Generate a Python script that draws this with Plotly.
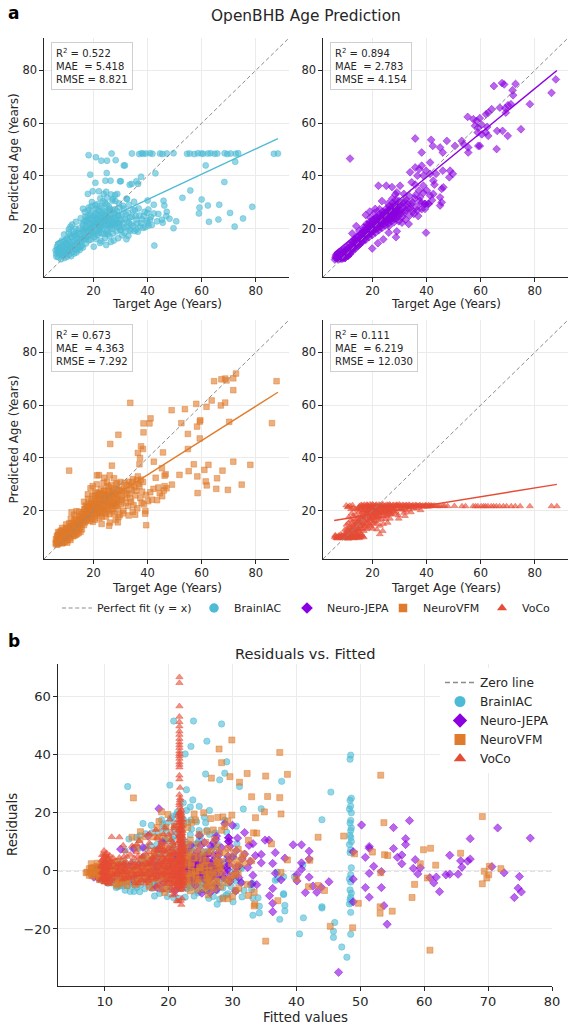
import plotly.graph_objects as go

FONT = "DejaVu Sans"
INK = "#262626"
GRID = "#ebebeb"

# ── Data ──────────────────────────────────────────────────────────────────────
models = ["BrainIAC", "Neuro-JEPA", "NeuroVFM", "VoCo"]
colors = ["#4DBBD5", "#8B00E0", "#E07B2C", "#E64B35"]
symbols = ["circle", "diamond", "square", "triangle-up"]
r2_vals = ["0.522", "0.894", "0.673", "0.111"]
mae_vals = ["5.418", "2.783", "4.363", "6.219"]
rmse_vals = ["8.821", "4.154", "7.292", "12.030"]

# (target age, predicted age)
brainiac_pairs = [
    (6.2, 10.5), (6.5, 13.2), (6.8, 11.0), (7.0, 9.2), (7.2, 12.4), (7.5, 14.6), (7.8, 10.3), (8.0, 8.4),
    (8.1, 12.0), (8.3, 15.5), (8.6, 9.8), (8.8, 13.1), (9.0, 11.2), (9.1, 17.8), (9.3, 8.9), (9.5, 14.2),
    (9.7, 10.6), (9.9, 12.7), (10.1, 16.3), (10.2, 9.4), (10.4, 13.8), (10.6, 11.5), (10.8, 18.6), (11.0, 10.2),
    (11.1, 15.1), (11.3, 12.9), (11.5, 20.8), (11.7, 9.6), (11.8, 14.0), (12.0, 16.9), (12.2, 11.3), (12.4, 13.4),
    (12.6, 19.0), (12.8, 10.6), (13.0, 15.6), (13.1, 12.2), (13.3, 17.5), (13.5, 22.6), (13.7, 11.0), (13.9, 14.5),
    (14.1, 18.4), (14.3, 13.0), (14.5, 16.2), (14.7, 20.1), (14.9, 11.9), (15.1, 15.0), (15.3, 24.0), (15.5, 17.3),
    (15.7, 13.6), (15.9, 19.6), (16.2, 21.5), (16.4, 15.8), (16.6, 18.2), (16.8, 26.3), (17.0, 20.0), (17.2, 14.4),
    (17.4, 22.8), (17.6, 17.0), (17.8, 24.5), (18.0, 19.2), (18.2, 28.0), (18.3, 15.6), (18.5, 21.4), (18.7, 23.6),
    (18.9, 17.8), (19.1, 26.0), (19.2, 20.3), (19.4, 30.1), (19.6, 18.5), (19.8, 22.4), (20.0, 24.8), (20.1, 13.2),
    (20.3, 16.9), (20.5, 20.9), (20.7, 27.5), (20.9, 22.0), (21.0, 19.0), (21.2, 25.1), (21.4, 29.3), (21.6, 17.6),
    (21.8, 23.2), (22.0, 21.0), (22.1, 26.8), (22.3, 19.8), (22.5, 31.5), (22.7, 24.0), (22.9, 15.3), (23.1, 22.5),
    (23.3, 27.9), (23.5, 20.2), (23.7, 25.4), (23.9, 18.0), (24.1, 23.6), (24.3, 29.8), (24.5, 21.5), (24.7, 13.8),
    (24.9, 26.2), (25.1, 19.4), (25.3, 24.3), (25.5, 22.0), (25.7, 28.4), (25.9, 17.2), (26.1, 25.0), (26.3, 21.1),
    (26.5, 33.0), (26.7, 23.4), (26.9, 19.9), (27.1, 27.0), (27.3, 22.6), (27.5, 15.5), (27.7, 25.8), (27.9, 21.3),
    (28.1, 30.5), (28.3, 24.1), (28.5, 19.0), (28.7, 26.6), (28.9, 22.3), (29.1, 16.4), (29.3, 24.9), (29.5, 20.7),
    (29.7, 28.0), (29.9, 23.0), (19.5, 21.0), (20.4, 23.3), (21.3, 21.8), (22.2, 23.0), (22.8, 20.6), (23.6, 22.8),
    (24.4, 24.9), (25.2, 21.2), (26.0, 23.8), (26.8, 21.7), (27.6, 23.9), (28.4, 22.0), (21.7, 19.7), (23.0, 25.9),
    (24.8, 18.6), (25.8, 26.9), (20.8, 25.7), (18.6, 19.9), (17.5, 18.8), (16.5, 16.7),
    (6.0, 11.8), (6.3, 9.4), (6.6, 12.1), (6.9, 14.0), (7.3, 10.9), (7.7, 12.9), (8.2, 11.0), (8.5, 13.6),
    (8.9, 10.0), (9.2, 15.0), (9.6, 11.9), (9.9, 14.6), (10.3, 12.6), (10.7, 15.6), (11.0, 11.6), (11.4, 17.4),
    (11.9, 12.6), (12.3, 15.0), (12.7, 17.9), (13.2, 13.7), (13.6, 16.3), (14.0, 12.0), (14.4, 14.8), (14.8, 18.0),
    (15.2, 13.0), (15.6, 16.1), (15.9, 22.0), (16.1, 12.9), (13.4, 20.0), (12.1, 21.6), (10.9, 19.8),
    (16.3, 19.3), (16.7, 22.9), (17.1, 16.2), (17.3, 20.9), (17.7, 23.5), (18.1, 17.4), (18.4, 22.2), (18.8, 25.3),
    (19.0, 15.9), (19.3, 19.2), (19.7, 23.8), (20.1, 18.2), (20.3, 21.4), (20.6, 29.0), (20.9, 16.1), (21.1, 23.9),
    (21.5, 27.0), (21.9, 18.5), (22.2, 25.0), (18.1, 27.0), (19.3, 28.5), (17.0, 24.6), (16.1, 27.6),
    (22.4, 21.7), (22.6, 28.5), (22.9, 18.3), (23.2, 24.2), (23.5, 30.4), (23.8, 21.4), (24.2, 26.6), (24.6, 23.3),
    (24.9, 29.2), (25.3, 18.0), (25.6, 23.1), (26.0, 27.6), (26.2, 20.4), (26.6, 25.6), (27.0, 30.6), (27.2, 18.2),
    (27.5, 21.9), (27.9, 27.4), (28.2, 23.2), (28.6, 20.6), (29.0, 25.1), (29.4, 29.6), (29.6, 22.0), (29.9, 19.6),
    (28.0, 32.8), (25.0, 31.8), (23.8, 33.2), (24.2, 16.4), (26.4, 15.0), (22.4, 14.6),
    (30.2, 19.5), (30.5, 25.3), (30.8, 21.9), (31.2, 27.6), (31.5, 18.4), (31.8, 23.7), (32.3, 20.6), (32.8, 26.1),
    (33.2, 22.2), (33.7, 19.2), (34.2, 24.6), (34.8, 21.0), (35.3, 27.1), (35.8, 23.4), (36.4, 18.9), (37.0, 25.0),
    (37.6, 22.1), (38.3, 20.3), (38.9, 26.4), (39.6, 23.0), (40.4, 21.2), (41.2, 24.4),
    (30.3, 23.5), (30.9, 28.7), (31.3, 20.6), (31.9, 25.4), (32.5, 22.8), (33.1, 29.1), (33.5, 24.3), (34.0, 21.6),
    (34.6, 26.9), (35.2, 19.1), (35.6, 24.8), (36.1, 22.0), (36.7, 27.7), (37.3, 20.8), (37.9, 23.6), (38.6, 24.8),
    (39.2, 20.6), (39.9, 26.0), (41.6, 21.4), (43.5, 22.8), (44.0, 25.6), (30.6, 17.5), (32.9, 17.3),
    (34.2, 48.5), (36.9, 48.3), (37.8, 48.6), (38.4, 48.4), (39.4, 48.5), (40.9, 48.6), (41.8, 48.4), (44.6, 48.5),
    (45.5, 48.3), (47.1, 48.5), (49.6, 48.6), (54.6, 48.4), (55.6, 48.5), (57.3, 48.3), (58.6, 48.6), (59.9, 48.5),
    (60.6, 48.4), (62.3, 48.5), (63.3, 48.6), (64.8, 48.4), (65.8, 48.5), (68.5, 48.6), (69.5, 48.3), (70.7, 48.5),
    (72.6, 48.4), (73.5, 48.6), (86.7, 48.4), (88.2, 48.5),
    (18.2, 47.9), (20.9, 47.1), (22.9, 45.8), (25.0, 45.8), (26.7, 48.5), (28.2, 46.0), (31.2, 44.0), (18.8, 40.5),
    (24.9, 41.1), (26.3, 38.2), (24.4, 38.2), (29.8, 38.0), (20.7, 37.4), (34.1, 37.0), (36.5, 37.0), (17.9, 33.2),
    (19.7, 34.2), (22.0, 34.2), (28.8, 33.2), (32.4, 31.3), (27.2, 31.3), (24.7, 34.0), (30.1, 38.0), (33.4, 36.7),
    (35.9, 38.0), (32.2, 31.4), (35.0, 30.2), (31.6, 44.0), (61.5, 44.0), (72.4, 45.4), (42.9, 41.0), (37.6, 39.7),
    (68.4, 37.7), (55.8, 34.5), (52.9, 31.7), (60.0, 31.1), (59.2, 28.0), (59.0, 25.8), (62.3, 28.8), (66.5, 29.1),
    (70.5, 26.0), (78.7, 28.3), (62.7, 22.6), (66.2, 23.5), (75.3, 23.9), (72.2, 20.8), (49.6, 20.2), (50.6, 22.8),
    (42.5, 13.6), (45.9, 30.6), (46.2, 28.8), (42.3, 29.1), (42.3, 25.8), (47.1, 26.4), (46.9, 24.8), (48.1, 23.8),
    (45.3, 23.4), (45.6, 22.3), (40.0, 30.7), (40.3, 27.3), (40.9, 23.5), (40.0, 22.3), (35.9, 19.7), (33.4, 19.7),
    (32.2, 16.0),
]

jepa_pairs = [
    (6.3, 9.0), (6.6, 10.2), (7.0, 8.6), (7.3, 9.7), (7.6, 11.0), (7.9, 8.9), (8.2, 10.0), (8.5, 9.3),
    (8.8, 11.6), (9.1, 8.8), (9.4, 10.5), (9.7, 12.3), (10.0, 9.6), (10.3, 11.2), (10.6, 13.0), (10.9, 10.1),
    (11.2, 12.0), (11.5, 14.2), (11.8, 10.8), (12.1, 12.8), (12.4, 15.0), (12.7, 11.6), (13.0, 13.7), (13.3, 16.1),
    (13.6, 12.4), (13.9, 14.6), (14.2, 17.0), (14.5, 13.3), (14.8, 15.5), (15.1, 19.2), (15.4, 14.2), (15.7, 16.6),
    (16.0, 18.0), (16.3, 15.0), (16.6, 20.5), (16.9, 17.2), (17.2, 19.0), (17.5, 15.8), (17.8, 21.8), (18.1, 18.3),
    (18.4, 20.0), (18.7, 16.8), (19.0, 22.6), (19.3, 19.2), (19.6, 21.0), (19.9, 17.6), (20.2, 23.5), (20.5, 20.1),
    (20.8, 22.0), (21.1, 18.5), (21.4, 24.4), (21.7, 21.0), (22.0, 23.0), (22.3, 19.4), (22.6, 25.6), (22.9, 21.9),
    (23.2, 23.8), (23.5, 20.3), (23.8, 26.5), (24.1, 22.8), (24.4, 24.7), (24.7, 21.2), (25.0, 27.5), (25.3, 23.7),
    (25.6, 25.6), (25.9, 22.0), (26.2, 28.6), (26.5, 24.5), (26.8, 26.4), (27.1, 22.9), (27.4, 29.8), (27.7, 25.4),
    (28.0, 27.3), (28.3, 23.8), (28.6, 31.0), (28.9, 26.2), (29.2, 28.2), (29.5, 24.6), (29.8, 30.5),
    (18.5, 18.9), (19.5, 20.4), (20.5, 21.4), (21.5, 22.4), (22.5, 22.2), (23.5, 23.4), (24.5, 23.6), (25.5, 24.8),
    (26.5, 26.0), (27.5, 27.0), (20.0, 19.2), (21.0, 20.3), (22.0, 21.1), (23.0, 22.4), (24.0, 25.2), (25.0, 24.0),
    (26.0, 25.5), (27.0, 24.6), (28.0, 25.5), (29.0, 27.3), (7.5, 8.4), (8.7, 8.6), (9.9, 9.0), (11.0, 9.7),
    (6.1, 8.3), (6.4, 9.6), (6.8, 8.9), (7.1, 10.5), (7.4, 9.1), (7.8, 9.9), (8.1, 8.7), (8.4, 11.2),
    (8.7, 9.9), (9.0, 10.8), (9.3, 9.3), (9.6, 11.4), (9.8, 8.9), (10.2, 10.3), (10.5, 12.2), (10.8, 9.7),
    (11.1, 11.0), (11.4, 12.9), (11.7, 10.4), (12.0, 11.9), (12.3, 13.8), (12.6, 12.3), (12.9, 14.8), (13.2, 12.9),
    (13.5, 15.3), (13.8, 13.5), (14.1, 15.9), (14.4, 14.4), (14.7, 16.6), (15.0, 13.8), (15.3, 16.0), (15.6, 18.0),
    (15.9, 15.1), (16.2, 17.1), (16.5, 19.1), (16.8, 15.7), (17.1, 17.9), (17.4, 20.3), (17.7, 17.0), (18.0, 19.4),
    (18.2, 21.5), (18.5, 17.6), (18.8, 19.8), (19.1, 21.8), (19.4, 18.3), (19.7, 20.6), (20.0, 22.9), (20.3, 19.1),
    (20.6, 21.1), (20.9, 23.8), (21.2, 19.8), (21.5, 21.6), (21.8, 24.0), (22.1, 20.2), (22.4, 22.6), (22.7, 24.6),
    (23.0, 20.9), (23.3, 23.0), (23.6, 25.2), (23.9, 21.6), (24.2, 23.9), (19.2, 24.2), (20.8, 26.0), (22.6, 27.4),
    (24.5, 26.0), (24.8, 22.5), (25.1, 24.6), (25.4, 26.8), (25.7, 23.0), (26.0, 24.0), (26.3, 27.2), (26.6, 23.5),
    (26.9, 25.6), (27.2, 28.2), (27.5, 24.1), (27.8, 26.4), (28.1, 29.0), (28.4, 25.0), (28.7, 27.6), (29.0, 24.0),
    (29.3, 26.6), (29.6, 29.2), (29.9, 25.8), (25.8, 29.6), (27.3, 31.4), (28.5, 33.0), (26.1, 21.0), (27.9, 22.4),
    (29.7, 22.8),
    (19.9, 12.5), (28.7, 16.8), (29.0, 19.0), (24.0, 16.0), (22.0, 14.5), (26.0, 18.5), (14.0, 21.0), (12.5, 18.2),
    (11.7, 46.6), (22.2, 36.3), (25.1, 36.3), (27.2, 35.8), (30.2, 36.3), (29.0, 33.8), (23.5, 30.5), (21.0, 27.5),
    (19.0, 26.5), (17.5, 25.2),
    (30.5, 27.0), (31.0, 24.5), (31.5, 29.5), (32.0, 26.2), (32.6, 31.0), (33.1, 27.8), (33.7, 25.0), (34.3, 29.3),
    (35.0, 26.6), (35.6, 31.5), (36.2, 28.3), (36.9, 24.8), (37.5, 30.6), (38.2, 27.4), (38.8, 33.6), (39.4, 29.4),
    (39.8, 18.5), (40.7, 29.4), (41.3, 32.6), (42.0, 30.8),
    (30.3, 29.0), (30.7, 25.8), (31.2, 28.0), (31.8, 30.6), (32.3, 27.0), (32.9, 29.4), (33.5, 32.4), (34.0, 27.8),
    (34.8, 30.0), (35.3, 25.6), (36.0, 32.8), (36.6, 27.0), (37.2, 34.5), (38.0, 29.6), (30.9, 22.3), (32.2, 23.5),
    (33.4, 21.8), (31.6, 33.2),
    (64.9, 74.1), (67.9, 75.2), (68.7, 74.7), (72.9, 74.9), (71.8, 72.5), (72.0, 70.6), (87.8, 76.6), (86.2, 71.5),
    (78.2, 67.2), (71.2, 67.2), (70.1, 66.8), (69.1, 65.7), (67.1, 65.9), (69.3, 64.0), (64.1, 65.3), (62.8, 64.0),
    (62.0, 63.4), (55.2, 62.4), (57.3, 61.5), (58.5, 60.9), (59.7, 61.9), (57.9, 59.0), (59.1, 58.3), (60.4, 59.4),
    (62.4, 58.6), (61.9, 56.5), (62.8, 55.2), (60.4, 55.8), (58.9, 56.5), (66.1, 57.1), (68.1, 57.1), (70.0, 55.2),
    (74.9, 57.7), (59.1, 51.4), (59.7, 51.4), (65.9, 50.2), (35.8, 54.2), (41.7, 53.7), (47.5, 53.3), (53.0, 53.3),
    (53.6, 52.1), (55.4, 50.8), (55.4, 48.9), (50.5, 51.4), (45.0, 50.8), (46.0, 48.9), (42.3, 51.4), (38.2, 48.9),
    (41.3, 45.1), (39.8, 42.0), (38.2, 43.9), (37.3, 42.6), (35.8, 43.2), (38.8, 40.1), (36.6, 40.1), (41.3, 40.8),
    (43.5, 40.8), (46.0, 42.0), (48.7, 42.0), (49.7, 40.8), (48.4, 39.5), (42.5, 38.2), (42.9, 36.7), (46.2, 35.7),
    (45.6, 35.1), (42.5, 33.2), (40.1, 34.5), (33.9, 41.4), (34.5, 37.6), (35.8, 36.7), (38.8, 36.3), (37.6, 31.9),
    (39.4, 29.4), (40.7, 29.4), (45.0, 31.9), (45.6, 30.0), (45.0, 28.8), (39.4, 27.5),
]

neurovfm_pairs = [
    (6.3, 8.0), (6.5, 10.5), (6.8, 7.3), (7.1, 9.2), (7.4, 11.8), (7.7, 8.1), (8.0, 10.0), (8.3, 7.6),
    (8.6, 12.6), (8.9, 9.0), (9.2, 11.0), (9.5, 8.3), (9.8, 13.5), (10.1, 10.2), (10.4, 8.8), (10.7, 12.0),
    (11.0, 15.2), (11.3, 9.6), (11.6, 11.4), (11.9, 19.4), (12.2, 13.3), (12.5, 10.3), (12.8, 16.0), (13.1, 12.2),
    (13.4, 14.3), (13.7, 19.8), (14.0, 11.2), (14.3, 15.5), (14.6, 13.0), (14.9, 17.6), (15.2, 12.0), (15.5, 14.8),
    (15.8, 16.9), (7.0, 7.9), (8.8, 8.0), (10.0, 9.1), (12.0, 11.0), (13.5, 10.9), (9.5, 10.6), (11.5, 13.0),
    (6.1, 9.2), (6.4, 7.1), (6.7, 8.8), (7.0, 10.8), (7.3, 7.8), (7.6, 9.6), (7.9, 12.4), (8.2, 8.8),
    (8.5, 10.7), (8.8, 7.9), (9.1, 9.9), (9.4, 12.2), (9.7, 9.2), (10.0, 11.4), (10.3, 7.9), (10.6, 10.3),
    (10.9, 13.4), (6.9, 11.9), (8.4, 13.5), (9.9, 14.8), (11.2, 11.0), (11.5, 8.9), (11.8, 12.9), (12.1, 15.3),
    (12.4, 11.6), (12.7, 13.9), (13.0, 10.6), (13.3, 17.0), (13.6, 12.7), (13.9, 15.4), (14.2, 13.8), (14.5, 11.6),
    (14.8, 16.2), (15.1, 14.0), (15.4, 17.9), (15.7, 12.9), (16.0, 15.5), (12.9, 18.5), (14.6, 19.6), (11.6, 17.0),
    (6.0, 7.6), (6.6, 9.9), (7.2, 8.5), (7.8, 10.5), (8.4, 9.4), (9.0, 11.8), (9.6, 10.9), (10.2, 12.9),
    (10.8, 11.3), (11.4, 14.1), (12.0, 12.4), (12.6, 14.8), (13.2, 13.6), (13.8, 16.5), (14.4, 14.9), (15.0, 16.3),
    (15.6, 18.6), (16.2, 16.1), (16.8, 19.2), (17.4, 17.2), (18.0, 21.6), (18.6, 19.4), (19.2, 22.7), (19.8, 20.9),
    (20.4, 19.3), (21.0, 24.3), (21.6, 22.1), (22.2, 26.5), (22.8, 24.3), (23.4, 20.2), (24.0, 27.6), (24.6, 25.9),
    (25.2, 23.5), (25.8, 28.8), (26.4, 26.3), (27.0, 22.0), (27.6, 28.3), (28.2, 26.4), (28.8, 30.4), (29.4, 28.1),
    (30.0, 30.9), (31.5, 30.5), (33.0, 31.0), (34.6, 32.0), (36.0, 31.5), (30.5, 24.0), (32.0, 27.5), (33.8, 29.6),
    (35.8, 27.6), (37.5, 31.8),
    (16.2, 19.5), (16.5, 14.6), (16.8, 17.8), (17.1, 22.0), (17.4, 16.3), (17.7, 19.1), (18.0, 24.5), (18.3, 17.5),
    (18.6, 21.2), (18.9, 28.5), (19.2, 18.8), (19.5, 23.0), (19.8, 15.8), (20.1, 20.5), (20.4, 26.0), (20.7, 18.0),
    (21.0, 22.7), (21.3, 33.4), (21.6, 19.6), (21.9, 24.8), (22.2, 17.2), (22.5, 21.5), (22.8, 28.2), (23.1, 19.0),
    (23.4, 23.6), (23.7, 30.5), (24.0, 21.0), (24.3, 26.4), (24.6, 17.8), (24.9, 23.0), (25.2, 29.3), (25.5, 20.3),
    (25.8, 24.8), (26.1, 15.5), (26.4, 22.3), (26.7, 27.4), (27.0, 19.7), (27.3, 25.6), (27.6, 32.3), (27.9, 21.7),
    (28.2, 16.5), (28.5, 24.0), (28.8, 27.9), (29.1, 20.6), (29.4, 25.9), (29.7, 18.3),
    (18.0, 20.0), (19.0, 21.3), (20.0, 22.6), (21.0, 20.4), (22.0, 22.8), (23.0, 21.7), (24.0, 24.2), (25.0, 22.4),
    (26.0, 25.0), (27.0, 23.0), (21.5, 26.8), (23.5, 26.0), (19.5, 17.0), (20.5, 24.6), (22.5, 19.6), (24.5, 20.0),
    (25.5, 27.0), (28.0, 23.0), (17.0, 20.6), (22.0, 33.5),
    (16.3, 17.5), (16.6, 20.7), (16.9, 15.6), (17.2, 18.4), (17.5, 21.6), (17.8, 16.7), (18.1, 22.5), (18.4, 19.6),
    (18.7, 16.2), (19.0, 23.5), (19.3, 20.2), (19.6, 25.6), (19.9, 18.6), (20.2, 21.9), (20.5, 16.6), (20.8, 27.1),
    (21.1, 18.9), (21.4, 23.6), (21.7, 21.0), (22.0, 25.9), (17.9, 26.2), (19.7, 29.3), (21.2, 30.0), (16.5, 23.4),
    (22.3, 19.5), (22.6, 23.7), (22.9, 26.3), (23.2, 17.8), (23.5, 21.0), (23.8, 27.5), (24.1, 22.2), (24.4, 19.0),
    (24.7, 24.8), (25.0, 31.0), (25.3, 21.6), (25.6, 25.7), (25.9, 18.7), (26.2, 23.6), (26.5, 29.6), (26.8, 20.6),
    (27.1, 26.9), (27.4, 22.8), (27.7, 18.9), (28.0, 25.3), (28.3, 29.9), (28.6, 21.9), (28.9, 24.6), (29.2, 17.6),
    (29.5, 23.2), (29.8, 27.5), (24.0, 32.5), (26.0, 33.4), (23.0, 15.0), (25.8, 14.3), (29.0, 15.6),
    (30.2, 22.5), (30.6, 27.6), (31.1, 20.0), (31.6, 25.0), (32.2, 29.8), (32.7, 21.8), (33.3, 26.7), (33.9, 23.4),
    (34.5, 19.6), (35.1, 28.9), (35.4, 18.5), (36.4, 33.0), (36.6, 30.2), (34.3, 30.8), (37.3, 24.8), (38.0, 27.2),
    (38.6, 22.4), (39.5, 26.0), (39.2, 19.9), (39.1, 18.9), (39.5, 14.5), (41.6, 24.2), (42.2, 28.3), (43.0, 32.5),
    (44.5, 26.6), (45.4, 25.5), (46.0, 27.7), (46.3, 29.3), (46.7, 33.8), (49.0, 29.9), (47.0, 28.5),
    (30.4, 25.4), (30.9, 19.0), (31.4, 28.3), (31.9, 23.0), (32.5, 26.1), (33.0, 18.2), (33.6, 24.6), (34.2, 28.0),
    (34.8, 22.1), (35.5, 25.8), (36.2, 20.9), (37.0, 29.3), (37.8, 23.0), (38.3, 30.9), (40.2, 23.6), (41.0, 27.0),
    (43.5, 24.0), (44.0, 28.8),
    (33.6, 60.9), (29.2, 48.8), (26.2, 45.3), (26.8, 37.1), (11.0, 35.2), (38.5, 53.1), (40.7, 53.1), (41.1, 55.0),
    (38.5, 49.7), (37.6, 44.4), (38.3, 43.4), (36.4, 41.9), (37.2, 40.0), (37.0, 37.6), (45.7, 42.1), (42.3, 38.6),
    (45.3, 36.1), (46.3, 33.3), (48.9, 58.1), (52.5, 53.2), (53.8, 58.5), (54.9, 49.1), (54.9, 43.4), (58.0, 60.5),
    (59.3, 53.8), (59.5, 54.3), (58.3, 51.9), (59.3, 47.4), (61.8, 59.4), (63.7, 61.8), (64.6, 69.1), (67.3, 69.8),
    (68.7, 70.1), (69.2, 69.4), (71.7, 70.2), (72.7, 72.0), (71.7, 65.7), (67.1, 59.9), (68.7, 61.0), (70.2, 53.7),
    (87.7, 69.1), (86.0, 53.2), (57.1, 37.6), (61.0, 35.5), (62.5, 37.4), (67.7, 35.2), (71.7, 38.6), (78.0, 37.4),
    (74.8, 29.9), (69.7, 27.9), (55.2, 35.0), (51.8, 33.6), (58.4, 33.0), (58.5, 26.7), (61.5, 31.1), (61.9, 29.6),
    (65.7, 32.3), (65.4, 28.3),
]

voco_pairs = [
    (6.0, 10.0), (6.4, 10.4), (6.8, 9.8), (7.2, 10.2), (7.6, 10.6), (8.0, 9.9), (8.4, 10.3), (8.8, 9.7),
    (9.2, 10.1), (9.6, 10.5), (10.0, 9.8), (10.4, 10.2), (10.8, 9.6), (11.2, 10.4), (11.6, 10.0), (12.0, 9.7),
    (12.4, 10.3), (12.8, 9.9), (13.2, 10.6), (13.6, 10.1), (14.0, 9.8), (14.4, 10.4), (14.8, 10.0), (15.2, 10.5),
    (15.6, 10.2), (16.0, 10.8), (7.0, 9.5), (9.0, 9.5), (11.0, 9.4), (13.0, 9.5), (15.0, 9.6), (8.2, 11.0),
    (10.2, 11.2), (12.2, 11.0), (14.2, 11.3),
    (6.2, 10.7), (6.6, 9.6), (7.4, 9.9), (7.8, 10.1), (8.6, 10.6), (9.4, 9.9), (10.6, 10.4), (11.4, 9.8),
    (12.6, 10.5), (13.4, 9.8), (14.6, 10.6), (15.4, 9.9), (16.4, 10.3), (16.8, 9.9), (9.8, 10.0), (11.8, 10.8),
    (13.8, 10.9), (15.8, 11.3),
    (9.8, 12.8), (10.4, 14.7), (10.9, 21.3), (11.2, 17.5), (11.6, 21.9), (11.9, 13.6), (12.3, 19.0), (12.6, 15.8),
    (12.9, 21.0), (13.2, 12.4), (13.5, 16.9), (13.8, 18.6), (14.1, 14.2), (14.4, 20.4), (14.7, 16.0), (15.0, 12.9),
    (15.3, 18.0), (15.6, 21.0), (15.9, 14.8), (16.2, 19.5), (16.5, 16.8), (16.8, 12.3), (17.1, 20.9), (17.4, 18.0),
    (17.7, 15.3), (18.0, 21.5), (18.3, 13.5), (18.6, 19.3), (18.9, 16.7), (19.2, 21.2), (19.5, 14.0), (19.8, 18.4),
    (20.1, 20.6), (20.4, 15.8), (20.7, 19.6), (21.0, 17.2), (21.3, 21.0), (21.6, 12.9), (21.9, 19.0), (22.2, 16.4),
    (22.7, 11.1), (23.1, 20.2), (23.5, 18.0), (24.0, 15.0), (24.5, 20.8), (25.0, 17.8), (26.0, 19.6), (27.0, 18.8),
    (28.0, 20.5), (29.5, 18.2), (31.0, 20.4), (26.5, 17.0), (10.3, 22.0), (11.0, 21.5), (12.6, 22.1),
    (10.6, 13.2), (11.1, 15.3), (11.5, 12.0), (12.0, 16.4), (12.4, 13.0), (12.8, 18.0), (13.3, 14.7), (13.7, 20.6),
    (14.2, 16.8), (14.6, 13.2), (15.1, 19.6), (15.5, 15.6), (15.8, 17.4), (16.3, 13.4), (16.7, 20.1), (17.1, 14.4),
    (17.5, 17.2), (17.9, 19.6), (18.4, 15.1), (18.8, 20.8), (19.2, 17.0), (19.6, 19.7), (20.0, 13.2), (20.5, 17.6),
    (20.9, 20.2), (21.4, 15.0), (21.8, 17.7), (22.3, 19.4), (22.8, 14.3), (23.3, 16.9), (24.2, 18.9), (25.6, 15.4),
    (23.8, 12.3), (12.1, 20.6), (14.9, 21.3),
    (11.5, 13.9), (12.7, 14.6), (13.9, 15.1), (15.2, 16.4), (16.1, 18.2), (17.3, 18.9), (18.5, 20.3), (19.6, 21.1),
    (20.9, 21.7), (14.3, 12.1), (15.7, 13.0), (16.9, 14.1), (18.1, 16.0), (19.4, 16.5), (20.6, 18.3), (21.8, 20.0),
    (23.0, 21.2), (24.4, 19.8), (25.7, 20.2), (27.2, 21.0), (12.2, 12.6), (13.1, 11.8), (14.8, 12.4), (16.6, 15.1),
    (17.8, 13.0), (19.0, 14.6), (20.2, 15.2), (22.1, 17.5), (23.6, 19.1), (25.2, 18.3), (10.4, 11.7), (11.8, 11.9),
    (13.6, 13.2), (15.6, 14.2), (17.0, 16.2), (18.7, 17.8), (20.0, 18.9), (21.3, 18.6), (22.6, 18.1), (24.8, 16.8),
    (9.6, 11.3), (10.9, 12.5), (12.9, 13.5), (14.5, 15.7), (16.3, 17.6), (18.2, 18.5), (19.9, 17.3), (21.1, 16.0),
    (26.4, 19.4), (28.5, 18.9),
    (15.2, 21.8), (15.8, 22.2), (16.4, 21.5), (17.0, 22.3), (17.6, 21.8), (18.2, 22.2), (18.8, 21.4), (19.4, 22.0),
    (20.0, 22.4), (20.6, 21.6), (21.2, 22.1), (21.8, 21.7), (22.4, 22.3), (23.0, 21.9), (23.6, 22.2), (24.2, 21.5),
    (24.8, 22.0), (25.4, 22.3), (26.0, 21.8), (26.6, 22.1), (27.2, 21.6), (27.8, 22.2), (28.4, 21.9), (29.0, 22.3),
    (29.6, 21.7), (30.2, 22.0), (30.8, 21.4), (31.4, 22.1), (32.0, 21.9), (32.6, 22.2), (33.2, 21.6), (33.8, 22.0),
    (34.4, 21.8), (35.0, 22.1), (35.6, 21.7), (36.2, 22.0), (36.8, 21.9), (37.4, 22.1), (38.0, 21.6), (38.6, 22.0),
    (39.2, 21.8), (39.8, 22.1), (40.4, 21.5), (41.0, 21.9), (41.6, 22.0), (42.2, 21.8), (42.8, 22.0), (44.2, 21.7),
    (15.5, 21.2), (16.1, 22.0), (16.7, 21.9), (17.3, 21.4), (17.9, 22.3), (18.5, 21.7), (19.1, 22.4), (19.7, 21.5),
    (20.3, 22.2), (20.9, 21.8), (21.5, 22.3), (22.1, 21.4), (22.7, 22.0), (23.3, 21.7), (23.9, 22.4), (24.5, 21.8),
    (25.1, 21.4), (25.7, 22.0), (26.3, 22.4), (26.9, 21.7), (27.5, 22.1), (28.1, 21.5), (28.7, 22.1), (29.3, 21.9),
    (29.9, 22.4), (30.5, 21.8), (31.1, 22.2), (31.7, 21.6), (32.3, 22.0), (32.9, 21.8), (33.5, 22.3), (34.1, 21.6),
    (34.7, 22.0), (35.3, 21.5), (35.9, 22.2), (36.5, 21.8), (37.1, 21.6), (37.7, 22.0), (38.3, 21.8), (38.9, 21.5),
    (39.5, 22.0), (40.1, 21.8), (40.7, 22.1), (41.3, 21.6), (41.9, 21.9), (43.5, 21.8), (45.0, 21.7), (46.7, 21.8),
    (17.3, 20.2), (19.1, 20.0), (21.5, 20.4), (23.3, 19.5), (25.1, 20.6), (27.5, 19.9), (29.3, 20.8), (31.7, 19.2),
    (33.5, 20.5), (35.3, 20.8), (20.3, 21.0), (22.9, 20.8), (24.6, 21.0), (26.3, 20.5),
    (16.0, 20.6), (18.0, 19.0), (19.8, 20.5), (21.0, 19.2), (22.3, 20.6), (24.0, 20.2), (25.9, 19.0), (27.0, 20.8),
    (28.6, 19.6), (30.4, 20.6), (32.4, 20.0), (34.2, 19.4), (36.3, 20.9), (37.8, 20.2), (32.0, 18.0), (29.7, 17.0),
    (26.6, 18.5),
    (46.0, 21.8), (47.8, 21.7), (50.3, 21.8), (53.1, 21.7), (54.4, 21.7), (57.2, 21.7), (58.1, 21.7), (59.0, 21.7),
    (60.2, 21.7), (61.1, 21.7), (61.8, 21.7), (62.7, 21.7), (63.9, 21.7), (64.8, 21.7), (65.8, 21.7), (67.0, 21.7),
    (68.4, 21.7), (69.6, 21.7), (71.3, 21.7), (72.8, 21.7), (74.6, 21.7), (78.2, 21.7), (86.2, 21.7), (88.2, 21.7),
]

# regression line end points (x from youngest to oldest subject)
fit_x = [5.8, 88.2]
brainiac_fit = [14.6, 54.2]
jepa_fit = [10.8, 80.0]
neurovfm_fit = [11.4, 64.9]
voco_fit = [16.3, 30.0]

AGE_RANGE = [1.7, 92.3]
AGE_TICKS = [20, 40, 60, 80]
FITTED_RANGE = [2.7, 80.0]
FITTED_TICKS = [10, 20, 30, 40, 50, 60, 70, 80]
RESID_RANGE = [-39.6, 71.0]
RESID_TICKS = [-20, 0, 20, 40, 60]

all_pairs = [brainiac_pairs, jepa_pairs, neurovfm_pairs, voco_pairs]
all_fits = [brainiac_fit, jepa_fit, neurovfm_fit, voco_fit]

# layout in pixels of the 574 x 1029 figure
W, H = 574, 1029
PANEL_X = [[44 / W, 289 / W], [323 / W, 568 / W]]
PANEL_Y = [[1 - 277 / H, 1 - 38 / H], [1 - 559 / H, 1 - 320 / H]]
RESID_X = [58 / W, 552 / W]
RESID_Y = [1 - 986 / H, 1 - 664 / H]
TOP_LEGEND_X = [57, 194, 287, 383, 482]   # left edge of each legend entry
TOP_LEGEND_Y = 608
XTITLE_Y = [304, 588]                     # "Target Age (Years)" rows

MARKER_SIZE = [6.0, 6.0, 5.6, 6.0]


def rgba(hex_color, alpha):
    h = hex_color.lstrip("#")
    r, g, b = int(h[0:2], 16), int(h[2:4], 16), int(h[4:6], 16)
    return f"rgba({r},{g},{b},{alpha})"


fig = go.Figure()

# ── Top: predicted vs target, one panel per model ────────────────────────────
for i, (pairs, fit_y) in enumerate(zip(all_pairs, all_fits)):
    ax = "" if i == 0 else str(i + 1)
    target = [p[0] for p in pairs]
    pred = [p[1] for p in pairs]
    fig.add_trace(go.Scatter(
        x=target, y=pred, mode="markers", xaxis="x" + ax, yaxis="y" + ax,
        marker=dict(symbol=symbols[i], size=MARKER_SIZE[i], color=rgba(colors[i], 0.6),
                    line=dict(color=rgba(colors[i], 0.6), width=0.8)),
        showlegend=False, hoverinfo="skip",
    ))
    fig.add_trace(go.Scatter(
        x=AGE_RANGE, y=AGE_RANGE, mode="lines", xaxis="x" + ax, yaxis="y" + ax,
        line=dict(color="#8c8c8c", width=1, dash="4px,2.6px"),
        showlegend=False, hoverinfo="skip",
    ))
    fig.add_trace(go.Scatter(
        x=fit_x, y=fit_y, mode="lines", xaxis="x" + ax, yaxis="y" + ax,
        line=dict(color=colors[i], width=1.4),
        showlegend=False, hoverinfo="skip",
    ))

# ── Bottom: residuals vs fitted ──────────────────────────────────────────────
for i, pairs in enumerate(all_pairs):
    fitted = [p[1] for p in pairs]
    resid = [p[0] - p[1] for p in pairs]
    fig.add_trace(go.Scatter(
        x=fitted, y=resid, mode="markers", xaxis="x5", yaxis="y5",
        marker=dict(symbol=symbols[i], size=MARKER_SIZE[i] + 0.4, color=rgba(colors[i], 0.6),
                    line=dict(color=rgba(colors[i], 0.6), width=0.8)),
        showlegend=False, hoverinfo="skip",
    ))

# ── Legend-only entries ──────────────────────────────────────────────────────
# top row: one single-entry legend per item so the spacing matches
top_legends = {}
legend_names = ["legend"] + [f"legend{k}" for k in range(3, 7)]
fig.add_trace(go.Scatter(
    x=[None], y=[None], mode="lines", name="Perfect fit (y = x)",
    line=dict(color="#8c8c8c", width=1.2, dash="4px,2.6px"), legend=legend_names[0],
))
top_sizes = [9.5, 9, 8.5, 8.8]
for i, name in enumerate(models):
    fig.add_trace(go.Scatter(
        x=[None], y=[None], mode="markers", name=name, legend=legend_names[i + 1],
        marker=dict(symbol=symbols[i], size=top_sizes[i], color=colors[i]),
    ))
for key, px in zip(legend_names, TOP_LEGEND_X):
    top_legends[key] = dict(
        orientation="h", x=px / W, y=1 - TOP_LEGEND_Y / H, xanchor="left", yanchor="middle",
        font=dict(size=11, color=INK), bgcolor="rgba(0,0,0,0)",
    )

fig.add_trace(go.Scatter(
    x=[None], y=[None], mode="lines", name="Zero line", xaxis="x5", yaxis="y5",
    line=dict(color="#8c8c8c", width=1.3, dash="5px,3px"), legend="legend2",
))
for i, name in enumerate(models):
    fig.add_trace(go.Scatter(
        x=[None], y=[None], mode="markers", name=name, xaxis="x5", yaxis="y5", legend="legend2",
        marker=dict(symbol=symbols[i], size=11, color=colors[i]),
    ))

# ── Axes ─────────────────────────────────────────────────────────────────────
axis_style = dict(
    showline=True, linecolor=INK, linewidth=1.1, mirror=False,
    ticks="outside", ticklen=3.5, tickwidth=1, tickcolor=INK,
    showgrid=True, gridcolor=GRID, gridwidth=1, zeroline=False, automargin=False,
)
axes = {}
for i in range(4):
    ax = "" if i == 0 else str(i + 1)
    row, col = divmod(i, 2)
    axes["xaxis" + ax] = dict(domain=PANEL_X[col], anchor="y" + ax, range=AGE_RANGE, tickvals=AGE_TICKS,
                              tickfont=dict(size=11.5, color=INK), **axis_style)
    axes["yaxis" + ax] = dict(domain=PANEL_Y[row], anchor="x" + ax, range=AGE_RANGE, tickvals=AGE_TICKS,
                              tickfont=dict(size=11.5, color=INK), **axis_style)
axes["xaxis5"] = dict(domain=RESID_X, anchor="y5", range=FITTED_RANGE, tickvals=FITTED_TICKS,
                      tickfont=dict(size=13, color=INK), **axis_style)
axes["yaxis5"] = dict(domain=RESID_Y, anchor="x5", range=RESID_RANGE, tickvals=RESID_TICKS,
                      tickfont=dict(size=13, color=INK), **axis_style)

# ── Annotations: stats boxes, axis titles, titles, panel letters ─────────────
annotations = []
for i in range(4):
    ax = "" if i == 0 else str(i + 1)
    row, col = divmod(i, 2)
    annotations.append(dict(
        xref="x" + ax + " domain", yref="y" + ax + " domain", x=0.028, y=0.982,
        xanchor="left", yanchor="top", align="left", showarrow=False,
        text=f"R<sup>2</sup> = {r2_vals[i]}<br>MAE&nbsp; = {mae_vals[i]}<br>RMSE = {rmse_vals[i]}",
        font=dict(size=10, color=INK),
        bgcolor="rgba(255,255,255,0.85)", bordercolor="#cfcfcf", borderwidth=1, borderpad=4,
    ))
    annotations.append(dict(
        xref="paper", yref="paper", x=sum(PANEL_X[col]) / 2, y=1 - XTITLE_Y[row] / H,
        xanchor="center", yanchor="middle", text="Target Age (Years)", showarrow=False,
        font=dict(size=12, color=INK),
    ))
    if col == 0:
        annotations.append(dict(
            xref="paper", yref="paper", x=13 / W, y=sum(PANEL_Y[row]) / 2, textangle=-90,
            xanchor="center", yanchor="middle", text="Predicted Age (Years)", showarrow=False,
            font=dict(size=12, color=INK),
        ))
annotations += [
    dict(xref="paper", yref="paper", x=sum(RESID_X) / 2, y=1 - 1017 / H, xanchor="center", yanchor="middle",
         text="Fitted values", showarrow=False, font=dict(size=13.3, color=INK)),
    dict(xref="paper", yref="paper", x=12 / W, y=1 - 825 / H, xanchor="center", yanchor="middle",
         textangle=-90, text="Residuals", showarrow=False, font=dict(size=13.3, color=INK)),
    dict(xref="paper", yref="paper", x=306 / W, y=1 - 16 / H, xanchor="center", yanchor="middle",
         text="OpenBHB Age Prediction", showarrow=False, font=dict(size=15.4, color=INK)),
    dict(xref="paper", yref="paper", x=sum(RESID_X) / 2, y=1 - 653 / H,
         xanchor="center", yanchor="middle", text="Residuals vs. Fitted", showarrow=False,
         font=dict(size=14.6, color=INK)),
    dict(xref="paper", yref="paper", x=6 / W, y=1 - 13 / H, xanchor="left", yanchor="middle",
         text="<b>a</b>", showarrow=False, font=dict(size=17, color="black")),
    dict(xref="paper", yref="paper", x=6 / W, y=1 - 641 / H, xanchor="left", yanchor="middle",
         text="<b>b</b>", showarrow=False, font=dict(size=17, color="black")),
]

fig.update_layout(
    width=W, height=H,
    margin=dict(l=0, r=0, t=0, b=0),
    paper_bgcolor="white", plot_bgcolor="white",
    font=dict(family=FONT, color=INK, size=11),
    legend2=dict(
        x=440 / W, y=1 - 668 / H, xanchor="left", yanchor="top",
        font=dict(size=12.2, color=INK), bgcolor="white", tracegroupgap=0,
    ),
    shapes=[dict(
        type="line", xref="x5 domain", yref="y5", x0=0, x1=1, y0=0, y1=0,
        line=dict(color="#8c8c8c", width=1.3, dash="5px,3px"), layer="below",
    )],
    annotations=annotations,
    **top_legends,
    **axes,
)

# the page is photographed at exactly the figure size, so drop the body margin
fig.write_html(
    "out.html",
    config={"displayModeBar": False},
    post_script="document.body.style.margin = '0px';",
)
